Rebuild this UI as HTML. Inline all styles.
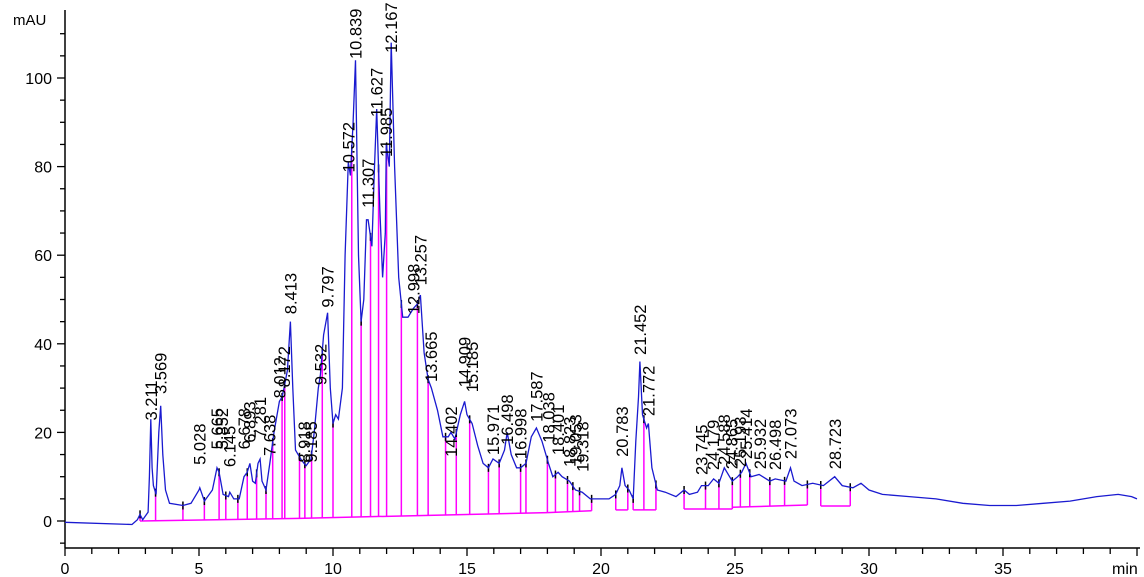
<!DOCTYPE html>
<html><head><meta charset="utf-8"><style>
html,body{margin:0;padding:0;background:#fff;}
svg{display:block;font-family:"Liberation Sans",Arial,sans-serif;}
</style></head><body>
<svg id="chart" width="1144" height="577" viewBox="0 0 1144 577" xmlns="http://www.w3.org/2000/svg">
<g id="axes"></g>
<g id="integ"></g>
<g id="trace"></g>
<g id="labels"></g>
</svg>
<script>
const sigT=[0,2.5,2.7,2.8,2.9,3.1,3.15,3.2,3.25,3.3,3.4,3.5,3.57,3.65,3.75,3.9,4.4,4.7,5.0,5.03,5.2,5.5,5.67,5.75,5.9,6.1,6.15,6.3,6.5,6.68,6.8,6.9,7.0,7.1,7.2,7.28,7.35,7.5,7.64,7.8,8.0,8.1,8.17,8.3,8.41,8.5,8.6,8.8,8.92,9.0,9.18,9.3,9.45,9.53,9.65,9.8,9.9,10.0,10.1,10.2,10.35,10.45,10.57,10.65,10.75,10.84,10.95,11.05,11.15,11.25,11.31,11.45,11.55,11.63,11.75,11.85,11.95,11.99,12.1,12.17,12.3,12.45,12.6,12.8,13.0,13.15,13.26,13.4,13.55,13.67,13.9,14.1,14.3,14.4,14.55,14.75,14.91,15.0,15.19,15.4,15.6,15.8,15.97,16.2,16.4,16.5,16.65,16.85,17.0,17.2,17.4,17.59,17.8,18.04,18.2,18.4,18.55,18.82,19.05,19.3,19.6,20.0,20.3,20.55,20.7,20.78,20.9,21.05,21.2,21.3,21.4,21.45,21.55,21.7,21.77,21.9,22.1,22.4,22.8,23.1,23.3,23.6,23.75,24.0,24.2,24.4,24.6,24.8,24.9,25.1,25.25,25.41,25.6,25.9,26.3,26.5,26.9,27.07,27.2,27.5,27.9,28.3,28.72,29.0,29.4,29.7,30.0,30.5,31.5,32.5,33.5,34.5,35.5,36.5,37.5,38.5,39.3,39.8,40];
const sigV=[-0.3,-0.8,0.3,1.5,0.3,2,10,23,12,8,6,20,26,15,7,4,3.5,4,7,7.5,4.5,7,12,11,6,5.5,6.5,5,5,10,11,13,9,8.5,13,14,9,7,13,20,27,28,30,34,45,30,16,14,13,12.5,14,20,30,33,42,47,30,22,24,23,30,60,81,78,90,104,60,45,50,68,68,62,80,93,70,55,65,85,80,108,80,55,46,46,48,49,51,38,32,30,25,19,19,20,18.5,24,27,24,22,17,13,12,14,13,16,20,15,12,12,13,19,21,18,13,10,11,10,9,7,6.5,5,5,5,6,8,12,8,7,5,18,28,36,24,21,22,12,7,6.5,5.5,7,6,6.5,8,8,9.5,8.5,12,10,9,10,11,13,10,10.5,9,9.5,9,12,9,8,8.5,8,10,8,7.5,8.5,7,6,5.5,5,4,3.5,3.5,4,4.5,5.5,6,5.5,5];
const peakRT=["3.211","3.569","5.028","5.665","5.852","6.145","6.678","6.893","7.281","7.638","8.012","8.172","8.413","8.918","9.185","9.532","9.797","10.572","10.839","11.307","11.627","11.985","12.167","12.998","13.257","13.665","14.402","14.909","15.185","15.971","16.498","16.998","17.587","18.038","18.401","18.823","19.053","19.318","20.783","21.452","21.772","23.745","24.179","24.588","24.865","25.193","25.414","25.932","26.498","27.073","28.723"];
const peakLabelBase=[22,28,12,15.5,15.5,11.5,15.5,17,18,14,27,29.5,46,12.5,12.5,30,47.5,78,103.6,70,90.5,81.5,105,46,52.5,30.7,13.8,29.5,28.4,14.2,16.5,13.3,21.7,17,14.2,11.5,12,10.4,13.8,36.8,23,9.7,10.8,12,11,11.5,13.3,11,10.8,13.3,11];
const dropT=[2.8,3.38,4.4,5.2,5.75,6.0,6.45,6.8,7.15,7.5,7.75,8.1,8.2,8.75,8.95,9.2,9.6,10.0,10.7,11.05,11.4,11.7,12.0,12.55,13.15,13.55,14.2,14.6,15.1,15.8,16.2,17.0,17.2,18.0,18.3,18.75,18.95,19.2,19.65,20.55,21.0,21.2,21.6,22.05,23.1,23.9,24.4,24.9,25.2,25.55,26.3,26.85,27.7,28.2,29.3];
const baseSegT1=[2.8,8.75,18.0,20.55,21.2,23.1,24.9,28.2];
const baseSegT2=[8.75,18.0,19.65,21.0,22.05,24.9,27.7,29.3];
const baseSegV1=[0,0.6,1.9,2.5,2.5,2.7,3.1,3.4];
const baseSegV2=[0.6,1.9,2.3,2.5,2.5,2.7,3.6,3.4];
const yTicks=[0,20,40,60,80,100];
const xTicks=[0,5,10,15,20,25,30,35];

const NS="http://www.w3.org/2000/svg";
const X=t=>65+t*26.8, Y=v=>521-v*4.43;
function mk(tag,attrs,parent){const e=document.createElementNS(NS,tag);for(const k in attrs)e.setAttribute(k,attrs[k]);parent.appendChild(e);return e;}
function sig(t){for(let i=1;i<sigT.length;i++){if(t<=sigT[i]){const f=(t-sigT[i-1])/(sigT[i]-sigT[i-1]);return sigV[i-1]+f*(sigV[i]-sigV[i-1]);}}return sigV[sigV.length-1];}
function base(t){for(let i=0;i<baseSegT1.length;i++){if(t>=baseSegT1[i]-1e-6&&t<=baseSegT2[i]+1e-6){const f=(t-baseSegT1[i])/(baseSegT2[i]-baseSegT1[i]);return baseSegV1[i]+f*(baseSegV2[i]-baseSegV1[i]);}}return 0;}
const ax=document.getElementById('axes');
let l=mk('line',{x1:65,y1:10,x2:65,y2:548,stroke:'#000','stroke-width':1.5},ax);


l=mk('line',{x1:65,y1:548,x2:1140,y2:548,stroke:'#000','stroke-width':1.5},ax);


for(let v=-5;v<=115;v+=5){const y=Y(v);if(y<12)continue;const maj=v%20===0;mk('line',{x1:maj?57:60,y1:y,x2:65,y2:y,stroke:'#000','stroke-width':1.3},ax);}
yTicks.forEach(v=>{const t=mk('text',{x:52,y:Y(v)+6,'text-anchor':'end','font-size':16,fill:'#000'},ax);t.textContent=v;

});
for(let m=0;m<=40;m++){mk('line',{x1:X(m),y1:548,x2:X(m),y2:m%5===0?556:554,stroke:'#000','stroke-width':1.3},ax);}
xTicks.forEach(v=>{const t=mk('text',{x:X(v),y:574,'text-anchor':'middle','font-size':16,fill:'#000'},ax);t.textContent=v;

});
let tt=mk('text',{x:13,y:25,'font-size':15,fill:'#000'},ax);tt.textContent='mAU';


tt=mk('text',{x:1112,y:574,'font-size':16,fill:'#000'},ax);tt.textContent='min';


const ig=document.getElementById('integ');
for(let i=0;i<baseSegT1.length;i++){const s=mk('line',{x1:X(baseSegT1[i]),y1:Y(baseSegV1[i]),x2:X(baseSegT2[i]),y2:Y(baseSegV2[i]),stroke:'#ff00ff','stroke-width':1.5},ig);

}
dropT.forEach(t=>{const d=mk('line',{x1:X(t),y1:Y(base(t)),x2:X(t),y2:Y(sig(t)),stroke:'#ff00ff','stroke-width':1.5},ig);


const m=mk('line',{x1:X(t),y1:Y(sig(t))-4,x2:X(t),y2:Y(sig(t))+4,stroke:'#000','stroke-width':1.5},ig);

});
const tr=document.getElementById('trace');
let d='';sigT.forEach((t,i)=>{d+=(i?'L':'M')+X(t).toFixed(1)+' '+Y(sigV[i]).toFixed(1);});
const p=mk('path',{d:d,fill:'none',stroke:'#1a1ad0','stroke-width':1.3},tr);


const lb=document.getElementById('labels');
peakRT.forEach((r,i)=>{const x=X(parseFloat(r))+6,y=Y(peakLabelBase[i])-3;const t=mk('text',{x:x,y:y,transform:`rotate(-90 ${x} ${y})`,'font-size':16.5,fill:'#000'},lb);t.textContent=r;

});
</script>
</body></html>
